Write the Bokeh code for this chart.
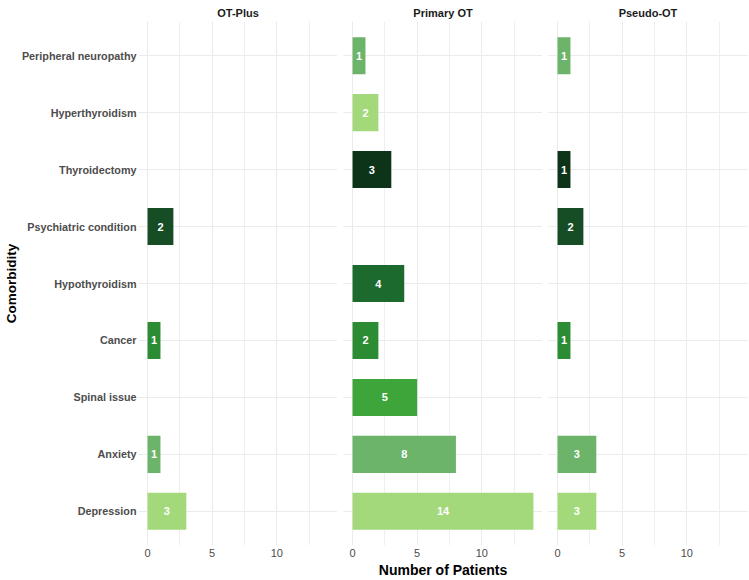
from bokeh.plotting import figure
from bokeh.layouts import row
from bokeh.models import ColumnDataSource, FactorRange, Range1d, SingleIntervalTicker
from bokeh.core.properties import value
from bokeh.embed import file_html
from bokeh.resources import INLINE

# Comorbidities, bottom to top
comorbidities = ["Depression", "Anxiety", "Spinal issue", "Cancer", "Hypothyroidism",
                 "Psychiatric condition", "Thyroidectomy", "Hyperthyroidism",
                 "Peripheral neuropathy"]
bar_colors = ["#a3d97a", "#6cb46a", "#3ea53a", "#2b8c33", "#1d6a2e",
              "#164d25", "#0d3318", "#a3d97a", "#6cb46a"]

groups = ["OT-Plus", "Primary OT", "Pseudo-OT"]
ot_plus = [3, 1, 0, 1, 0, 2, 0, 0, 0]
primary_ot = [14, 8, 5, 2, 4, 0, 3, 2, 1]
pseudo_ot = [3, 3, 0, 1, 0, 2, 1, 0, 1]
group_counts = [ot_plus, primary_ot, pseudo_ot]

FONT = "Liberation Sans"
GRID = "#ebebeb"


def panel(name, counts, first, middle):
    rows = [(c, n, col) for c, n, col in zip(comorbidities, counts, bar_colors) if n > 0]
    src = ColumnDataSource(dict(
        cat=[r[0] for r in rows],
        n=[r[1] for r in rows],
        mid=[r[1] / 2 for r in rows],
        lab=[str(r[1]) for r in rows],
        color=[r[2] for r in rows],
    ))
    # 0.6 category units of padding beyond the outer bar centres
    yr = FactorRange(factors=comorbidities, range_padding=0.2 / 9)
    p = figure(y_range=yr, x_range=Range1d(-0.7, 14.7),
               frame_width=199, frame_height=524,
               output_backend="svg", toolbar_location=None,
               min_border_left=138 if first else 6,
               min_border_right=2 if name == "Pseudo-OT" else 0,
               min_border_top=21, min_border_bottom=30,
               title=name)
    p.title.align = "center"
    p.title.text_font = FONT
    p.title.text_font_size = "11px"
    p.title.text_font_style = "bold"
    p.title.text_color = "#1a1a1a"
    p.title.standoff = 6
    p.outline_line_color = None
    p.background_fill_color = "white"
    p.border_fill_color = "white"

    p.hbar(y="cat", left=0, right="n", height=0.65, color="color", line_color=None, source=src)
    p.text(x="mid", y="cat", text="lab", source=src, text_align="center",
           text_baseline="middle", text_color="white", text_font=value(FONT),
           text_font_style="bold", text_font_size="11px")

    p.xaxis.ticker = SingleIntervalTicker(interval=5, num_minor_ticks=2)
    p.xaxis.axis_line_color = None
    p.xaxis.major_tick_line_color = None
    p.xaxis.minor_tick_line_color = None
    p.xaxis.major_tick_out = 0
    p.xaxis.major_tick_in = 0
    p.xaxis.minor_tick_out = 0
    p.xaxis.major_label_text_font = FONT
    p.xaxis.major_label_text_font_size = "11px"
    p.xaxis.major_label_text_color = "#4d4d4d"
    p.xaxis.major_label_standoff = 3
    if middle:
        p.xaxis.axis_label = "Number of Patients"
        p.xaxis.axis_label_text_font = FONT
        p.xaxis.axis_label_text_font_size = "14px"
        p.xaxis.axis_label_text_font_style = "bold"
        p.xaxis.axis_label_text_color = "black"
        p.xaxis.axis_label_standoff = 2

    if first:
        p.yaxis.axis_label = "Comorbidity"
        p.yaxis.axis_label_text_font = FONT
        p.yaxis.axis_label_text_font_size = "13.5px"
        p.yaxis.axis_label_text_font_style = "bold"
        p.yaxis.axis_label_text_color = "black"
        p.yaxis.axis_label_standoff = 0
        p.yaxis.axis_line_color = None
        p.yaxis.major_tick_line_color = None
        p.yaxis.minor_tick_line_color = None
        p.yaxis.major_tick_out = 0
        p.yaxis.major_tick_in = 0
        p.yaxis.major_label_text_font = FONT
        p.yaxis.major_label_text_font_size = "10.8px"
        p.yaxis.major_label_text_font_style = "bold"
        p.yaxis.major_label_text_color = "#4d4d4d"
        p.yaxis.major_label_standoff = 2
    else:
        p.yaxis.visible = False

    p.xgrid.grid_line_color = GRID
    p.xgrid.grid_line_width = 1
    p.xgrid.minor_grid_line_color = GRID
    p.xgrid.minor_grid_line_width = 0.8
    p.ygrid.grid_line_color = GRID
    p.ygrid.grid_line_width = 1.2
    return p


panels = [panel(g, c, i == 0, i == 1) for i, (g, c) in enumerate(zip(groups, group_counts))]
layout = row(*panels)
open("out.html", "w").write(file_html(layout, INLINE))
